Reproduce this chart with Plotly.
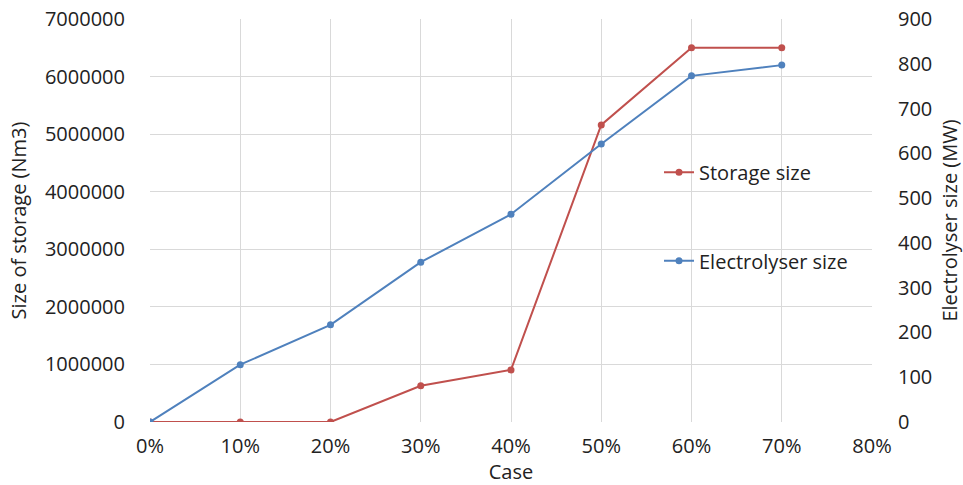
import plotly.graph_objects as go

cases = [0.0, 0.1, 0.2, 0.3, 0.4, 0.5, 0.6, 0.7]
storage_size = [0, 0, 0, 630000, 905000, 5160000, 6500000, 6500000]
electrolyser_size = [0, 128, 217, 357, 464, 621, 773, 797]

RED = "#C0504D"
BLUE = "#4F81BD"
GRID = "#D9D9D9"
FONT = "Open Sans"
TXT = "#222222"

fig = go.Figure()
fig.add_trace(go.Scatter(
    x=cases, y=storage_size, name="Storage size", mode="lines+markers",
    line=dict(color=RED, width=2), marker=dict(color=RED, size=7),
    yaxis="y", legend="legend"))
fig.add_trace(go.Scatter(
    x=cases, y=electrolyser_size, name="Electrolyser size", mode="lines+markers",
    line=dict(color=BLUE, width=2), marker=dict(color=BLUE, size=7),
    yaxis="y2", legend="legend2"))

tickfont = dict(family=FONT, size=20, color=TXT)
titlefont = dict(family=FONT, size=20, color=TXT)

fig.update_layout(
    width=963, height=485,
    margin=dict(l=150, r=91, t=19, b=63, autoexpand=False),
    paper_bgcolor="white", plot_bgcolor="white",
    font=dict(family=FONT, size=20, color=TXT),
    xaxis=dict(range=[0, 0.8], dtick=0.1, tick0=0, tickformat=".0%",
               showgrid=True, gridcolor=GRID, gridwidth=1, zeroline=False,
               showline=False, tickfont=tickfont, ticks="outside", ticklen=6,
               tickcolor="rgba(0,0,0,0)", automargin=True,
               title=dict(text="Case", font=titlefont, standoff=14)),
    yaxis=dict(range=[0, 7000000], dtick=1000000, tickformat="d",
               showgrid=True, gridcolor=GRID, zeroline=False, showline=False,
               tickfont=tickfont, ticks="outside", ticklen=20,
               tickcolor="rgba(0,0,0,0)", automargin=True,
               title=dict(text="Size of storage (Nm3)", font=titlefont, standoff=12)),
    yaxis2=dict(range=[0, 900], dtick=100, overlaying="y", side="right",
                showgrid=False, zeroline=False, showline=False,
                ticks="outside", ticklen=21, tickcolor="rgba(0,0,0,0)",
                tickfont=tickfont, automargin=True,
                title=dict(text="Electrolyser size (MW)", font=titlefont, standoff=14)),
    yaxis3=dict(range=[0, 900], dtick=100, overlaying="y", side="right",
                showgrid=False, zeroline=False, showline=True, linecolor=GRID,
                linewidth=1, ticks="outside", ticklen=7, tickcolor=GRID,
                showticklabels=False),
    legend=dict(x=0.705, y=0.62, xanchor="left", yanchor="middle",
                bgcolor="rgba(0,0,0,0)", font=dict(family=FONT, size=20, color=TXT),
                itemwidth=30),
    legend2=dict(x=0.705, y=0.4, xanchor="left", yanchor="middle",
                 bgcolor="rgba(0,0,0,0)", font=dict(family=FONT, size=20, color=TXT),
                 itemwidth=30),
    showlegend=True,
)

fig.write_html("out.html", config={"displayModeBar": False},
               post_script="document.body.style.margin='0';document.body.style.overflow='hidden';")
